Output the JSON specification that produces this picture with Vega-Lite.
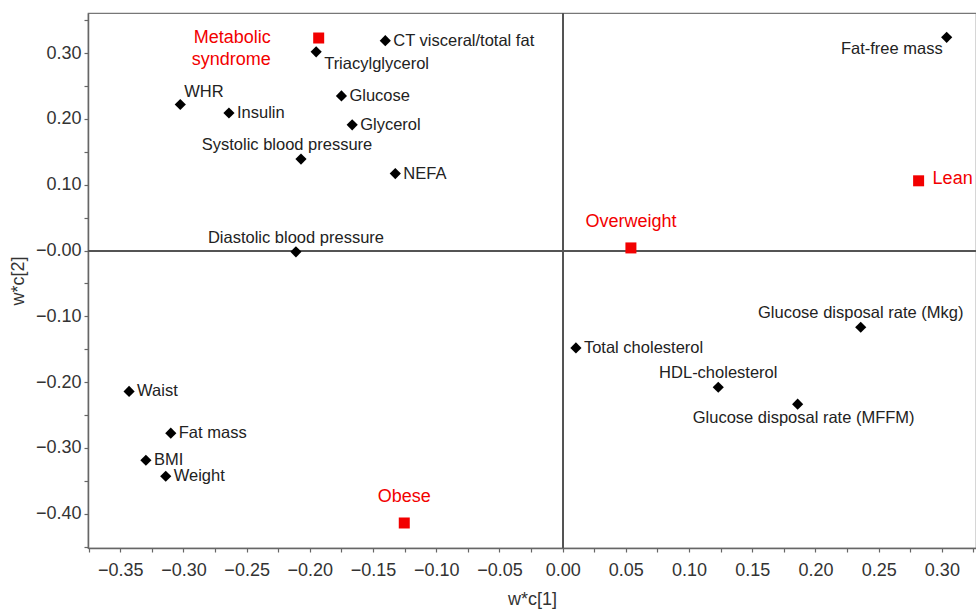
{
  "$schema": "https://vega.github.io/schema/vega-lite/v6.json",
  "width": 888,
  "height": 535,
  "autosize": {"type": "none"},
  "padding": {"left": 88, "top": 13, "right": 0, "bottom": 61},
  "background": "white",
  "view": {"stroke": "#777", "strokeWidth": 1.2},
  "config": {
    "font": "Liberation Sans",
    "axis": {
      "grid": false,
      "domainColor": "#666",
      "domainWidth": 1.5,
      "tickColor": "#666",
      "tickWidth": 1.2,
      "tickSize": 4,
      "labelColor": "#333",
      "titleColor": "#333",
      "labelFont": "Liberation Sans",
      "titleFont": "Liberation Sans",
      "labelFontSize": 18,
      "titleFontSize": 18,
      "titleFontWeight": "normal"
    }
  },
  "data": {
    "values": [
      {"name": "Triacylglycerol", "x": -0.195, "y": 0.302, "kind": "variable"},
      {"name": "CT visceral/total fat", "x": -0.1403, "y": 0.319, "kind": "variable"},
      {"name": "WHR", "x": -0.3025, "y": 0.222, "kind": "variable"},
      {"name": "Insulin", "x": -0.264, "y": 0.209, "kind": "variable"},
      {"name": "Glucose", "x": -0.175, "y": 0.235, "kind": "variable"},
      {"name": "Glycerol", "x": -0.1665, "y": 0.191, "kind": "variable"},
      {"name": "Systolic blood pressure", "x": -0.207, "y": 0.139, "kind": "variable"},
      {"name": "NEFA", "x": -0.1324, "y": 0.117, "kind": "variable"},
      {"name": "Diastolic blood pressure", "x": -0.211, "y": -0.002, "kind": "variable"},
      {"name": "Fat-free mass", "x": 0.3038, "y": 0.324, "kind": "variable"},
      {"name": "Waist", "x": -0.343, "y": -0.214, "kind": "variable"},
      {"name": "Fat mass", "x": -0.31, "y": -0.2775, "kind": "variable"},
      {"name": "BMI", "x": -0.3297, "y": -0.3186, "kind": "variable"},
      {"name": "Weight", "x": -0.314, "y": -0.343, "kind": "variable"},
      {"name": "Total cholesterol", "x": 0.0105, "y": -0.148, "kind": "variable"},
      {"name": "Glucose disposal rate (Mkg)", "x": 0.2358, "y": -0.1165, "kind": "variable"},
      {"name": "HDL-cholesterol", "x": 0.1231, "y": -0.2077, "kind": "variable"},
      {"name": "Glucose disposal rate (MFFM)", "x": 0.1859, "y": -0.2335, "kind": "variable"},
      {"name": "Metabolic syndrome", "x": -0.193, "y": 0.323, "kind": "group"},
      {"name": "Overweight", "x": 0.054, "y": 0.004, "kind": "group"},
      {"name": "Lean", "x": 0.2816, "y": 0.106, "kind": "group"},
      {"name": "Obese", "x": -0.1253, "y": -0.414, "kind": "group"}
    ]
  },
  "encoding": {
    "x": {
      "field": "x",
      "type": "quantitative",
      "scale": {"domain": [-0.3755, 0.327], "nice": false, "zero": false},
      "axis": {
        "title": "w*c[1]",
        "titlePadding": 11,
        "labelPadding": 9,
        "values": [-0.375,-0.35,-0.325,-0.3,-0.275,-0.25,-0.225,-0.2,-0.175,-0.15,-0.125,-0.1,-0.075,-0.05,-0.025,0,0.025,0.05,0.075,0.1,0.125,0.15,0.175,0.2,0.225,0.25,0.275,0.3,0.325],
        "labelExpr": "abs(datum.value*20 - round(datum.value*20)) < 0.01 ? format(datum.value, '.2f') : ''",
        "labelFlush": false,
        "labelOverlap": false
      }
    },
    "y": {
      "field": "y",
      "type": "quantitative",
      "scale": {"domain": [-0.452, 0.361], "nice": false, "zero": false},
      "axis": {
        "title": "w*c[2]",
        "titlePadding": 8,
        "labelPadding": 3,
        "values": [-0.45,-0.4,-0.35,-0.3,-0.25,-0.2,-0.15,-0.1,-0.05,0,0.05,0.1,0.15,0.2,0.25,0.3,0.35],
        "labelExpr": "abs(datum.value*10 - round(datum.value*10)) < 0.01 ? (abs(datum.value) < 0.001 ? '\u22120.00' : format(datum.value, '.2f')) : ''",
        "labelFlush": false,
        "labelOverlap": false
      }
    }
  },
  "layer": [
    {"mark": {"type": "rule", "color": "#555", "strokeWidth": 1.3}, "encoding": {"x": {"datum": 0}, "y": null}},
    {"mark": {"type": "rule", "color": "#555", "strokeWidth": 1.3}, "encoding": {"y": {"datum": 0}, "x": null}},
    {
      "transform": [{"filter": "datum.kind == 'variable'"}],
      "mark": {"type": "point", "shape": "diamond", "filled": true, "color": "#000", "size": 125, "opacity": 1}
    },
    {
      "transform": [{"filter": "datum.kind == 'group'"}],
      "mark": {"type": "square", "color": "#f20000", "size": 121, "opacity": 1}
    },
    {
      "transform": [{"filter": {"field": "name", "oneOf": ["CT visceral/total fat", "Glucose", "Glycerol", "Insulin", "NEFA", "Waist", "Fat mass", "BMI", "Weight", "Total cholesterol"]}}],
      "mark": {"type": "text", "align": "left", "baseline": "middle", "dx": 8, "fontSize": 16.5, "color": "#222"},
      "encoding": {"text": {"field": "name"}}
    },
    {
      "transform": [{"filter": "datum.name == 'WHR'"}],
      "mark": {"type": "text", "align": "left", "baseline": "middle", "dx": 4, "dy": -12, "fontSize": 16.5, "color": "#222"},
      "encoding": {"text": {"field": "name"}}
    },
    {
      "transform": [{"filter": "datum.name == 'Triacylglycerol'"}],
      "mark": {"type": "text", "align": "left", "baseline": "middle", "dx": 8, "dy": 12, "fontSize": 16.5, "color": "#222"},
      "encoding": {"text": {"field": "name"}}
    },
    {
      "transform": [{"filter": {"field": "name", "oneOf": ["Diastolic blood pressure", "Glucose disposal rate (Mkg)", "HDL-cholesterol"]}}],
      "mark": {"type": "text", "align": "center", "baseline": "middle", "dy": -14, "fontSize": 16.5, "color": "#222"},
      "encoding": {"text": {"field": "name"}}
    },
    {
      "transform": [{"filter": "datum.name == 'Systolic blood pressure'"}],
      "mark": {"type": "text", "align": "center", "baseline": "middle", "dx": -14, "dy": -14, "fontSize": 16.5, "color": "#222"},
      "encoding": {"text": {"field": "name"}}
    },
    {
      "transform": [{"filter": "datum.name == 'Fat-free mass'"}],
      "mark": {"type": "text", "align": "right", "baseline": "middle", "dx": -4, "dy": 12, "fontSize": 16.5, "color": "#222"},
      "encoding": {"text": {"field": "name"}}
    },
    {
      "transform": [{"filter": "datum.name == 'Glucose disposal rate (MFFM)'"}],
      "mark": {"type": "text", "align": "center", "baseline": "middle", "dx": 6, "dy": 14, "fontSize": 16.5, "color": "#222"},
      "encoding": {"text": {"field": "name"}}
    },
    {
      "transform": [{"filter": {"field": "name", "oneOf": ["Overweight", "Obese"]}}],
      "mark": {"type": "text", "align": "center", "baseline": "middle", "dy": -26, "fontSize": 18, "color": "#f20000"},
      "encoding": {"text": {"field": "name"}}
    },
    {
      "transform": [{"filter": "datum.name == 'Lean'"}],
      "mark": {"type": "text", "align": "left", "baseline": "middle", "dx": 14, "dy": -2, "fontSize": 18, "color": "#f20000"},
      "encoding": {"text": {"field": "name"}}
    },
    {
      "transform": [{"filter": "datum.name == 'Metabolic syndrome'"}],
      "mark": {"type": "text", "align": "right", "baseline": "middle", "dx": -48, "lineBreak": " ", "lineHeight": 22, "fontSize": 18, "color": "#f20000"},
      "encoding": {"text": {"field": "name"}}
    }
  ]
}
